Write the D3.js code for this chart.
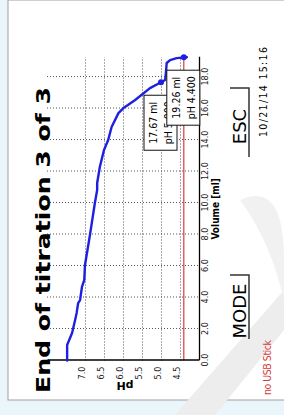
<!DOCTYPE html>
<html>
<head>
<meta charset="utf-8">
<script src="https://cdn.jsdelivr.net/npm/d3@7"></script>
<style>
  html, body { margin: 0; padding: 0; background: #fff; }
  svg { display: block; }
  .narrow { font-family: "Liberation Sans Narrow", "DejaVu Sans Condensed", "Arial Narrow", sans-serif; }
</style>
</head>
<body>
<svg id="screen" width="284" height="415"></svg>
<script>
// titration curve
var volume = [0, 0.98, 1.75, 2.57, 3.02, 3.65, 3.84, 4.67, 5.11, 6.06, 7.97, 10.0, 10.83, 11.27,
              12.29, 13.37, 14.0, 14.83, 15.71, 16.03, 16.22, 16.54, 17.30, 17.67, 17.81, 18.3,
              18.89, 19.08, 19.2, 19.26];
var ph = [7.47, 7.47, 7.34, 7.26, 7.22, 7.18, 7.13, 7.08, 7.02, 7.0, 6.87, 6.74, 6.68, 6.68,
          6.61, 6.50, 6.39, 6.30, 6.12, 5.99, 5.87, 5.68, 5.29, 5.0, 4.89, 4.87, 4.85, 4.76,
          4.59, 4.32];

var volTicks = [0, 2, 4, 6, 8, 10, 12, 14, 16, 18];
var phTicks = [7.0, 6.5, 6.0, 5.5, 5.0, 4.5];
var endPointPh = 4.4;

var markVol = [17.67, 19.26];
var markPh = [5.0, 4.4];
var markText1 = ["17.67 ml", "19.26 ml"];
var markText2 = ["pH 5.000", "pH 4.400"];

var W = 415, H = 284;   // display is drawn landscape, then turned
var svg = d3.select("#screen");

// page background + watermark bits
svg.append("rect").attr("width", 284).attr("height", 415).attr("fill", "#eaf5fc");
svg.append("rect").attr("x", 8).attr("y", 0).attr("width", 280).attr("height", 400)
  .attr("fill", "#fff").attr("stroke", "#a0a0a0").attr("stroke-width", 1);
svg.append("path").attr("d", "M175,415 L284,290 L284,330 L215,415 Z").attr("fill", "#ededed");
svg.append("path").attr("d", "M240,200 Q284,180 284,260 L284,300 Q270,240 240,200 Z").attr("fill", "#f1f1f1");

var disp = svg.append("g").attr("transform", "translate(0," + W + ") rotate(-90)");

var x = d3.scaleLinear().domain([0, 19.26]).range([54.5, 357.8]);
var y = d3.scaleLinear().domain([8, 4]).range([47, 199]);

// grid
var grid = disp.append("g").attr("stroke", "#555").attr("stroke-width", 1).attr("stroke-dasharray", "1,2");
grid.selectAll(".vg").data(volTicks.slice(1)).enter().append("line")
  .attr("x1", d => x(d) + 0.5).attr("x2", d => x(d) + 0.5)
  .attr("y1", y.range()[0]).attr("y2", y.range()[1]);
grid.selectAll(".hg").data(phTicks).enter().append("line")
  .attr("x1", x.range()[0]).attr("x2", x.range()[1])
  .attr("y1", d => y(d) + 0.5).attr("y2", d => y(d) + 0.5);

// end point line
disp.append("line")
  .attr("x1", x.range()[0]).attr("x2", x.range()[1])
  .attr("y1", y(endPointPh)).attr("y2", y(endPointPh))
  .attr("stroke", "#d83a3a").attr("stroke-width", 1.2);

// axes
var xAxis = disp.append("g").attr("transform", "translate(0," + y.range()[1] + ")")
  .call(d3.axisBottom(x).tickValues(volTicks).tickFormat(d3.format(".1f")).tickSize(0).tickPadding(3));
var yAxis = disp.append("g").attr("transform", "translate(" + x.range()[0] + ",0)")
  .call(d3.axisLeft(y).tickValues(phTicks).tickFormat(d3.format(".1f")).tickSize(0).tickPadding(6));
[xAxis, yAxis].forEach(function (a) {
  a.select(".domain").attr("stroke", "#000").attr("stroke-width", 1.3);
  a.selectAll("text").attr("class", "narrow").attr("font-size", 9).attr("fill", "#222");
});
yAxis.selectAll("text").attr("dy", "-0.05em");

disp.append("text").attr("x", (x.range()[0] + x.range()[1]) / 2).attr("y", 219)
  .attr("text-anchor", "middle").attr("font-family", "DejaVu Sans Condensed, sans-serif")
  .attr("font-weight", "bold").attr("font-size", 10).text("Volume [ml]");
disp.append("text").attr("transform", "translate(33,125) rotate(-90)")
  .attr("text-anchor", "middle").attr("font-family", "DejaVu Sans, sans-serif")
  .attr("font-weight", "bold").attr("font-size", 11).text("pH");

// curve
var pts = volume.map((v, i) => [v, ph[i]]);
disp.append("path").datum(pts)
  .attr("fill", "none").attr("stroke", "#1f1fe0").attr("stroke-width", 2.4)
  .attr("stroke-linejoin", "round").attr("stroke-linecap", "round")
  .attr("d", d3.line().x(d => x(d[0])).y(d => y(d[1])));

disp.selectAll(".mk").data(markVol).enter().append("circle")
  .attr("cx", d => x(d)).attr("cy", (d, i) => y(markPh[i])).attr("r", 3)
  .attr("fill", "#1f1fe0");

// value boxes
markVol.forEach(function (v, i) {
  var bx = x(v) - 68, by = y(markPh[i]) - 17;
  var b = disp.append("g");
  b.append("rect").attr("x", bx).attr("y", by).attr("width", 55).attr("height", 33)
    .attr("fill", "#fff").attr("stroke", "#111").attr("stroke-width", 1);
  b.append("text").attr("class", "narrow").attr("x", bx + 27.5).attr("y", by + 13)
    .attr("text-anchor", "middle").attr("font-size", 10.5).text(markText1[i]);
  b.append("text").attr("class", "narrow").attr("x", bx + 27.5).attr("y", by + 28)
    .attr("text-anchor", "middle").attr("font-size", 10.5).text(markText2[i]);
});

// title, softkeys, status
disp.append("text").attr("x", 22).attr("y", 50)
  .attr("font-family", "DejaVu Sans, sans-serif").attr("font-weight", "bold")
  .attr("font-size", 19.5).attr("textLength", 306).attr("lengthAdjust", "spacingAndGlyphs")
  .text("End of titration 3 of 3");

function softkey(label, x0, x1) {
  disp.append("text").attr("x", (x0 + x1) / 2 - 4).attr("y", 246)
    .attr("text-anchor", "middle").attr("font-family", "DejaVu Sans, sans-serif")
    .attr("font-size", 18).text(label);
  disp.append("path").attr("d", "M" + x0 + ",249 H" + x1 + " V230")
    .attr("fill", "none").attr("stroke", "#333").attr("stroke-width", 1.5);
}
softkey("MODE", 76, 140);
softkey("ESC", 258, 327);

disp.append("text").attr("x", 278).attr("y", 267).attr("font-family", "DejaVu Sans Condensed, sans-serif")
  .attr("font-size", 10.5).attr("textLength", 90).text("10/21/14 15:16");
disp.append("text").attr("x", 20).attr("y", 271).attr("font-family", "DejaVu Sans Condensed, sans-serif")
  .attr("font-size", 10.5).attr("fill", "#d23b3b").attr("textLength", 55).text("no USB Stick");
</script>
</body>
</html>
